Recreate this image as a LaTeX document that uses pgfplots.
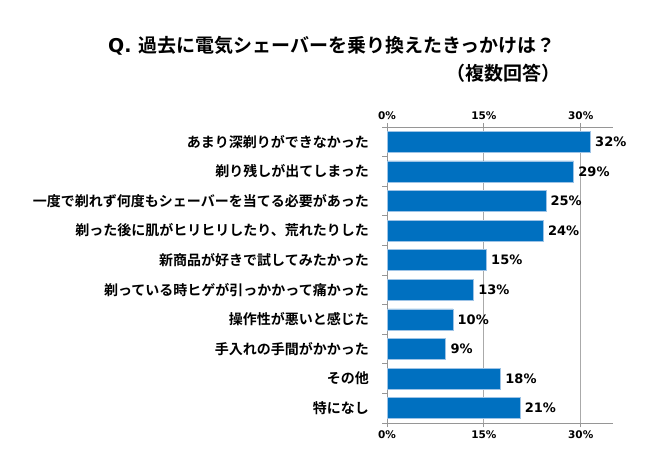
\documentclass[border=0pt]{standalone}
\usepackage{pgfplots}
\pgfplotsset{compat=1.18}
\usepackage{fontspec}
\setmainfont{DejaVu Sans}
\newfontfamily\jp{Noto Sans CJK JP}[BoldFont={Noto Sans CJK JP Bold}]
\newfontfamily\dej{DejaVu Sans}
\definecolor{barblue}{RGB}{0,112,192}
\definecolor{baredge}{RGB}{157,195,230}
\definecolor{linegray}{RGB}{150,150,150}
\definecolor{gridgray}{RGB}{170,170,170}
\begin{document}
\begin{tikzpicture}
\useasboundingbox (0,0) rectangle (650pt,467pt);
% title
\node[anchor=west, inner sep=0pt] at (108pt,421pt) {\fontsize{19}{20}\selectfont\bfseries{\dej Q.} {\jp\bfseries 過去に電気シェーバーを乗り換えたきっかけは？}};
\node[anchor=west, inner sep=0pt] at (446pt,394pt) {\fontsize{19}{20}\selectfont\jp\bfseries （複数回答）};
\begin{axis}[
  at={(387pt,44pt)}, anchor=south west,
  scale only axis, width=226pt, height=296pt,
  xbar, bar width=21pt,
  xmin=0, xmax=35, ymin=0.5, ymax=10.5, y dir=reverse,
  axis x line*=bottom, axis y line*=left,
  axis line style={draw=linegray, line width=0.8pt},
  xtick={0,15,30}, xticklabels={0\%,15\%,30\%},
  xticklabel style={font=\fontsize{10.5}{11}\selectfont\dej\bfseries},
  xmajorgrids, grid style={gridgray, line width=0.9pt},
  ytick={1,...,10},
  yticklabels={あまり深剃りができなかった,剃り残しが出てしまった,一度で剃れず何度もシェーバーを当てる必要があった,剃った後に肌がヒリヒリしたり、荒れたりした,新商品が好きで試してみたかった,剃っている時ヒゲが引っかかって痛かった,操作性が悪いと感じた,手入れの手間がかかった,その他,特になし},
  yticklabel style={font=\fontsize{14}{15}\selectfont\jp\bfseries, anchor=east, inner sep=0pt, xshift=-14pt},
  minor ytick={0.5,1.5,...,10.5},
  major y tick style={draw=none},
  tick align=outside,
  major tick length=4pt, minor tick length=5pt,
  every tick/.style={linegray, line width=0.8pt},
  point meta=explicit symbolic,
  nodes near coords={\pgfplotspointmeta\%},
  nodes near coords style={font=\fontsize{13}{13}\selectfont\dej\bfseries, anchor=west, inner sep=4.5pt, text=black},
]
\addplot[fill=barblue, draw=baredge, line width=0.6pt] table[x=v, y=c, meta=l] {
c v l
1 31.5 32
2 28.9 29
3 24.6 25
4 24.2 24
5 15.4 15
6 13.4 13
7 10.2 10
8 9.1 9
9 17.6 18
10 20.6 21
};
\end{axis}
\begin{axis}[
  at={(387pt,44pt)}, anchor=south west,
  scale only axis, width=226pt, height=296pt,
  xmin=0, xmax=35, ymin=0.5, ymax=10.5,
  axis x line*=top, axis y line=none,
  axis line style={draw=linegray, line width=0.8pt},
  xtick={0,15,30}, xticklabels={0\%,15\%,30\%},
  xticklabel style={font=\fontsize{10.5}{11}\selectfont\dej\bfseries},
  tick align=outside, major tick length=4pt,
  every tick/.style={linegray, line width=0.8pt},
]
\addplot[draw=none] coordinates {(0,1)};
\end{axis}
\end{tikzpicture}
\end{document}
